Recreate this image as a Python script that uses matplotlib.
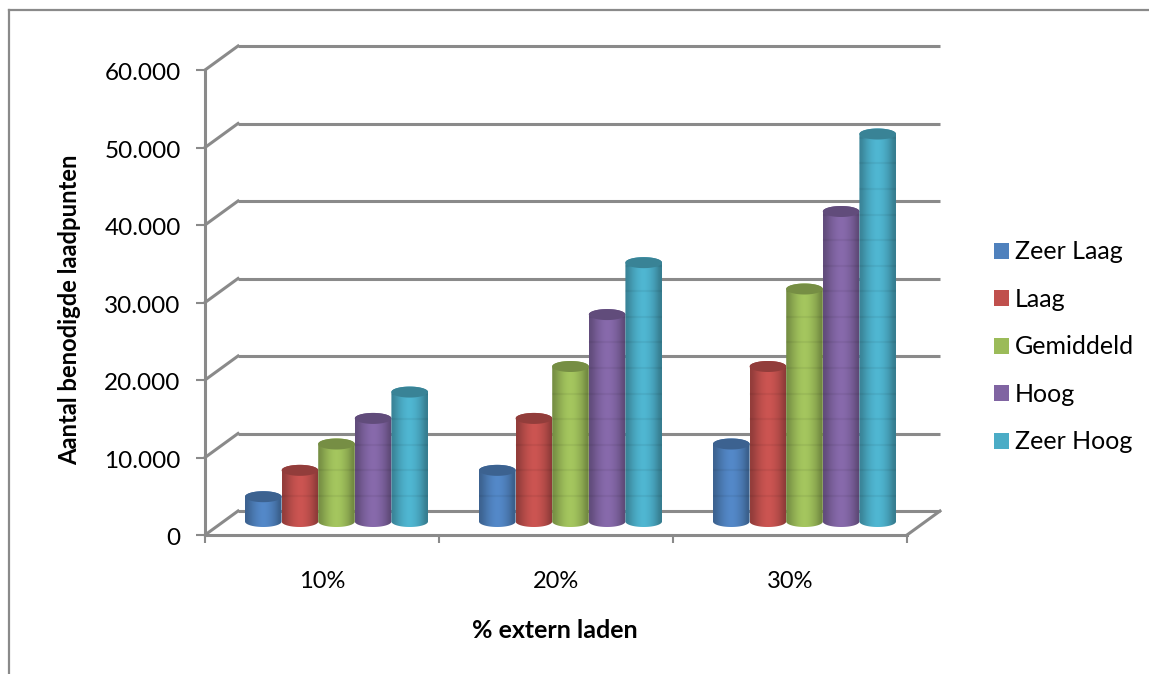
import numpy as np
import matplotlib
matplotlib.use("Agg")
import matplotlib.pyplot as plt
from matplotlib.colors import to_rgb
from matplotlib.lines import Line2D
from matplotlib.patches import Patch, PathPatch, Polygon
from matplotlib.path import Path
from matplotlib.transforms import ScaledTranslation

plt.rcParams['font.family'] = ['Lato', 'DejaVu Sans']

categories = ["10%", "20%", "30%"]
series_names = ["Zeer Laag", "Laag", "Gemiddeld", "Hoog", "Zeer Hoog"]
series_colors = ["#4f81bd", "#c0504d", "#9bbb59", "#8064a2", "#4bacc6"]
zeer_laag = [3200, 6600, 10000]
laag = [6600, 13300, 20000]
gemiddeld = [10000, 20000, 30000]
hoog = [13300, 26700, 40000]
zeer_hoog = [16700, 33400, 50000]
all_series = [zeer_laag, laag, gemiddeld, hoog, zeer_hoog]
y_ticks = [0, 10000, 20000, 30000, 40000, 50000, 60000]
y_labels = ["0", "10.000", "20.000", "30.000", "40.000", "50.000", "60.000"]

W, H = 1149, 674
GRAY = "#8a8a8a"

fig = plt.figure(figsize=(W / 100, H / 100), dpi=100)
ax = fig.add_axes([205 / W, 1 - 535 / H, 702 / W, 465 / H])
ax.set_xlim(0, 3)
ax.set_ylim(0, 60000)

# depth of the 3d box, in data units
depth_x = 33 / 234
depth_y = 24 / 465 * 60000

# back wall gridlines and the slanted lines on the side wall
for v in y_ticks:
    ax.plot([depth_x, 3 + depth_x], [v + depth_y, v + depth_y], color=GRAY, lw=2.2,
            clip_on=False, zorder=1, solid_capstyle="butt")
    ax.plot([0, depth_x], [v, v + depth_y], color=GRAY, lw=2.2, clip_on=False, zorder=1)
ax.plot([3, 3 + depth_x], [0, depth_y], color=GRAY, lw=2.2, clip_on=False, zorder=1)

# cylinders
bar_w = 36.6 / 234
base_x = 14.5 / 234
base_y = 13.5 / 465 * 60000
cap_h = 5.5 / 465 * 60000
band_step = 3300
shade = np.array([0.76, 0.88, 0.97, 1.04, 1.07, 1.04, 0.97, 0.88, 0.72])
t = np.linspace(0, 2 * np.pi, 80)
z = 5

for g in range(len(categories)):
    for s, values in enumerate(all_series):
        color = np.array(to_rgb(series_colors[s]))
        c = g + 0.5 + base_x + (s - 2) * bar_w
        bottom = base_y
        top = base_y + values[g]

        # outline: lower half of the base ellipse, upper half of the top ellipse
        lower = np.linspace(np.pi, 2 * np.pi, 40)
        upper = np.linspace(0, np.pi, 40)
        xs = np.concatenate([c + bar_w / 2 * np.cos(lower), c + bar_w / 2 * np.cos(upper)])
        ys = np.concatenate([bottom + cap_h * np.sin(lower), top + cap_h * np.sin(upper)])
        outline = Path(np.column_stack([xs, ys]))
        clip = PathPatch(outline, transform=ax.transData)

        grad = np.clip(shade[None, :, None] * color[None, None, :], 0, 1)
        im = ax.imshow(grad, extent=[c - bar_w / 2, c + bar_w / 2, bottom - cap_h, top + cap_h],
                       aspect="auto", interpolation="bicubic", zorder=z)
        im.set_clip_path(clip)

        # faint rings along the body
        for k in np.arange(band_step, values[g], band_step):
            ring, = ax.plot([c - bar_w / 2, c + bar_w / 2], [base_y + k, base_y + k],
                            color="black", alpha=0.05, lw=1.6, zorder=z + 0.1)
            ring.set_clip_path(clip)

        cap = Polygon(np.column_stack([c + bar_w / 2 * np.cos(t), top + cap_h * np.sin(t)]),
                      closed=True, facecolor=color * 0.76, edgecolor="none", zorder=z + 0.2)
        ax.add_patch(cap)
        z += 1

ax.set_xlim(0, 3)
ax.set_ylim(0, 60000)

for side in ["top", "right"]:
    ax.spines[side].set_visible(False)
for side in ["left", "bottom"]:
    ax.spines[side].set_color(GRAY)
    ax.spines[side].set_linewidth(2.2)
    ax.spines[side].set_zorder(2)

ax.set_yticks(y_ticks)
ax.set_yticklabels(y_labels)
ax.set_xticks([0, 1, 2, 3])
ax.set_xticklabels([])
ax.set_xticks([0.5, 1.5, 2.5], minor=True)
ax.set_xticklabels(categories, minor=True)
ax.tick_params(axis="y", length=6.5, width=1.5, color=GRAY, pad=11, labelsize=17.5)
ax.tick_params(axis="x", which="major", length=6, width=1.5, color=GRAY)
ax.tick_params(axis="x", which="minor", length=0, pad=26, labelsize=17)

# nudge the value labels down a little
nudge = ScaledTranslation(0, -1.2 / 72, fig.dpi_scale_trans)
for lab in ax.get_yticklabels():
    lab.set_transform(lab.get_transform() + nudge)

fig.text(70 / W, 1 - 310 / H, "Aantal benodigde laadpunten", rotation=90, ha="center",
         va="center", fontsize=17.1, fontweight="bold")
fig.text(555 / W, 1 - 630 / H, "% extern laden", ha="center", va="center",
         fontsize=18, fontweight="bold")

handles = [Patch(facecolor=col, edgecolor="none") for col in series_colors]
fig.legend(handles, series_names, loc="center left", bbox_to_anchor=(994 / W, 1 - 347 / H),
           frameon=False, fontsize=18, handlelength=0.6, handleheight=0.6,
           handletextpad=0.24, labelspacing=0.98, borderpad=0, borderaxespad=0)

# outer chart frame
fig.add_artist(Line2D([9 / W, 9 / W], [0, 1 - 10 / H], color=GRAY, lw=1.6))
fig.add_artist(Line2D([9 / W, 1], [1 - 10 / H, 1 - 10 / H], color=GRAY, lw=1.6))

fig.savefig("out.png", dpi=100)
